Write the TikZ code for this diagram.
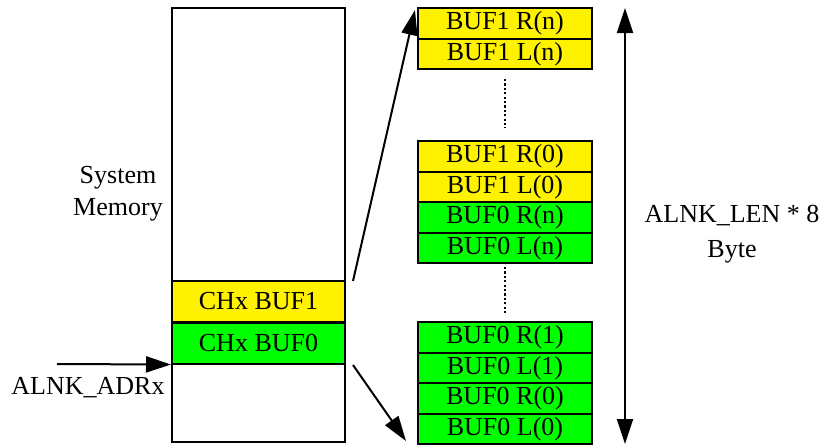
\documentclass[tikz,border=0pt]{standalone}
\usepackage{fontspec}
\setmainfont{Liberation Serif}
\usetikzlibrary{arrows.meta}
\begin{document}
\begin{tikzpicture}[x=0.5pt,y=-0.5pt,
  every node/.style={font=\fontsize{13}{16}\selectfont, inner sep=0pt},
  cell/.style={draw, line width=1pt, minimum width=87pt, minimum height=15.25pt, anchor=center},
  y1/.style={cell, fill=yellow},
  g0/.style={cell, fill=green},
  memcell/.style={draw, line width=1pt, minimum width=86.5pt, minimum height=20.5pt},
  arr/.style={line width=1pt, -{Triangle[length=12.5pt,width=8pt]}},
  dotline/.style={line width=1pt, dash pattern=on 1.1pt off 1.1pt}]
\useasboundingbox (0,0) rectangle (829,447);

% system memory block
\node[draw, line width=1pt, minimum width=86.5pt, minimum height=217pt] (mem) at (258.5,225) {};
\node[memcell, fill=yellow] (cbuf1) at (258.5,301.5) {CHx BUF1};
\node[memcell, fill=green] (cbuf0) at (258.5,343) {CHx BUF0};
\node[align=center, font=\fontsize{13}{16}\selectfont] (sysmem) at (118,194) {System\\Memory};

% address pointer
\coordinate (adrstart) at (57,364);
\draw[arr] (adrstart) -- (cbuf0.south west);
\node (adr) at (88,388) {ALNK\_ADRx};

% buffer layout
\node[y1] (b1rn) at (505,23.25) {BUF1 R(n)};
\node[y1] (b1ln) at (505,53.75) {BUF1 L(n)};
\node[y1] (b1r0) at (505,156.25) {BUF1 R(0)};
\node[y1] (b1l0) at (505,186.75) {BUF1 L(0)};
\node[g0] (b0rn) at (505,217.25) {BUF0 R(n)};
\node[g0] (b0ln) at (505,247.75) {BUF0 L(n)};
\node[g0] (b0r1) at (505,337.5) {BUF0 R(1)};
\node[g0] (b0l1) at (505,368) {BUF0 L(1)};
\node[g0] (b0r0) at (505,398.5) {BUF0 R(0)};
\node[g0] (b0l0) at (505,429) {BUF0 L(0)};

\coordinate (d1a) at (505,79);
\coordinate (d1b) at (505,128);
\coordinate (d2a) at (505,267);
\coordinate (d2b) at (505,315);
\draw[dotline] (d1a) -- (d1b);
\draw[dotline] (d2a) -- (d2b);

% expansion arrows
\coordinate (upfrom) at (353,281);
\coordinate (upto) at (415,10);
\coordinate (dnfrom) at (353,365);
\coordinate (dnto) at (406,441);
\draw[arr] (upfrom) -- (upto);
\draw[arr] (dnfrom) -- (dnto);

% total length
\coordinate (lentop) at (625,8);
\coordinate (lenbot) at (625,444);
\draw[line width=1pt, {Triangle[length=12.5pt,width=8pt]}-{Triangle[length=12.5pt,width=8pt]}] (lentop) -- (lenbot);
\node[align=center, font=\fontsize{13}{17.5}\selectfont] (lenlabel) at (732,234) {ALNK\_LEN * 8\\Byte};
\end{tikzpicture}
\end{document}
